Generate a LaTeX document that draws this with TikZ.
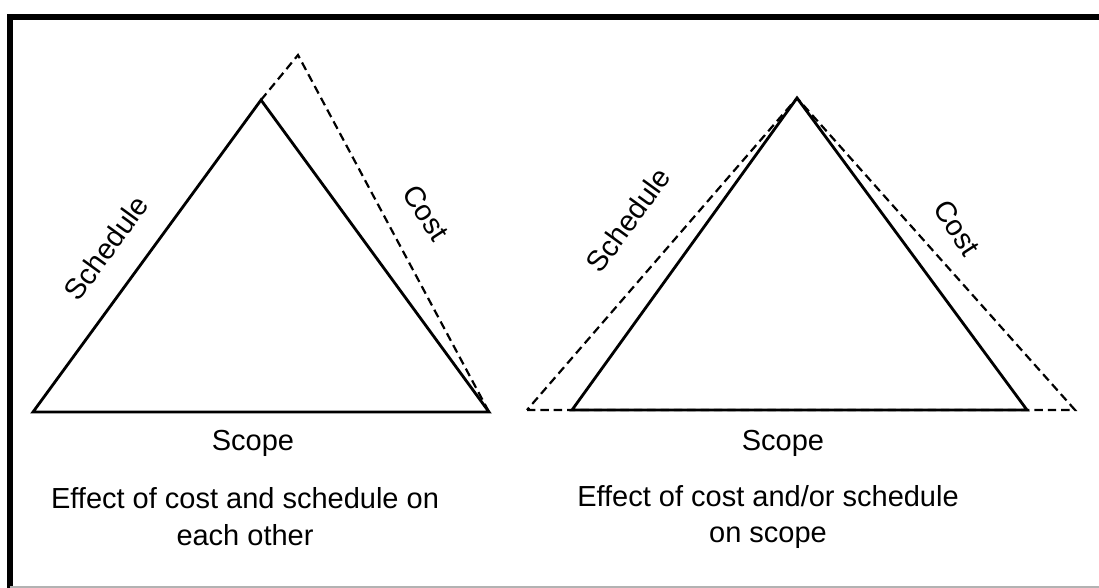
\documentclass[tikz,border=0pt]{standalone}
\usepackage{fontspec}
\setmainfont{Liberation Sans}

\begin{document}
\begin{tikzpicture}[
  x=0.02cm, y=-0.02cm,
  every node/.style={inner sep=1pt, font=\fontsize{16.5}{22}\selectfont},
  side/.style={draw, line width=1.6pt, line join=miter},
  dside/.style={draw, line width=1.25pt, dash pattern=on 4.8pt off 2.8pt},
  frame/.style={draw, line width=3pt},
  lbl/.style={inner sep=0pt, align=center}]

  \useasboundingbox (0,0) rectangle (1099,588);

  % frame
  \draw[frame] (10,1200) |- (1200,17);
  \draw[gray!60, line width=0.6pt] (10,587) -- (1099,587);

  % vertices, left triangle
  \coordinate (la) at (33,412);
  \coordinate (lb) at (489,412);
  \coordinate (lc) at (261,100);
  \coordinate (ld) at (298,55);

  % vertices, right triangle
  \coordinate (ra) at (572,410);
  \coordinate (rb) at (1027,410);
  \coordinate (rc) at (797,98);
  \coordinate (rda) at (527,410);
  \coordinate (rdb) at (1075,410);

  % sides
  \draw[side] (la) -- (lb) -- (lc) -- cycle;
  \draw[dside] (lc) -- (ld) -- (lb);
  \draw[side] (ra) -- (rb) -- (rc) -- cycle;
  \draw[dside] (rda) -- (rdb) -- (rc) -- cycle;

  % labels, left
  \node[lbl, rotate=54]  (lsched) at (106,248) {Schedule};
  \node[lbl, rotate=-57] (lcost)  at (426,213) {Cost};
  \node[lbl]             (lscope) at (253,443) {Scope};
  \node[lbl]             (lcap)   at (245,517) {Effect of cost and schedule on\\[-1pt]each other};

  % labels, right
  \node[lbl, rotate=54]  (rsched) at (628,220) {Schedule};
  \node[lbl, rotate=-57] (rcost)  at (957,228) {Cost};
  \node[lbl]             (rscope) at (783,443) {Scope};
  \node[lbl]             (rcap)   at (768,517) {Effect of cost and/or schedule\\[-1pt]on scope};
\end{tikzpicture}
\end{document}
